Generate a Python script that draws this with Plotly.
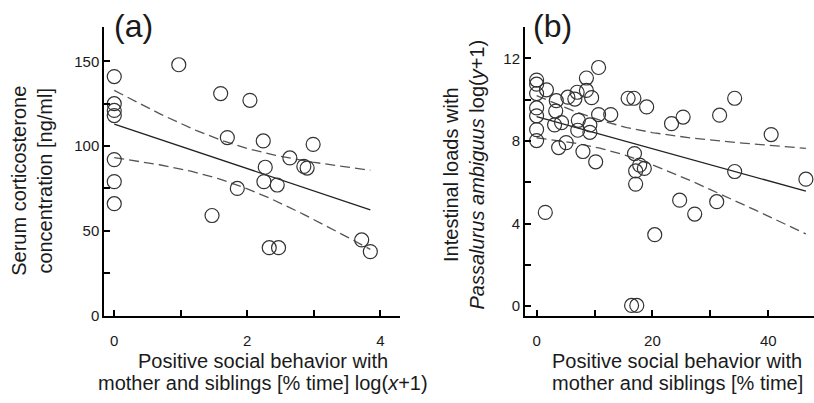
import numpy as np
import plotly.graph_objects as go

# ---------------- Data: panel (a) ----------------
a_x = [0, 0, 0, 0, 0, 0, 0,
       0.97, 1.47, 1.60, 1.70, 1.85, 2.04, 2.24, 2.27, 2.25, 2.45, 2.33, 2.47,
       2.64, 2.85, 2.90, 2.99, 3.72, 3.85]
a_y = [141, 125, 121, 118, 92, 79, 66,
       148, 59, 131, 105, 75, 127, 103, 87.5, 79, 77, 40, 40,
       93, 88, 87, 101, 44.6, 37.7]

# ---------------- Data: panel (b) ----------------
b_x = [0, 0, 0, 0, 0, 0, 0,
       1.7, 1.5, 3.4, 3.3, 3.1, 4.3, 3.8, 5.1, 5.4, 6.6, 7.0, 7.2, 7.1, 8.0,
       8.6, 8.6, 9.5, 9.2, 9.2, 10.7, 10.7, 10.2, 12.8,
       15.8, 16.8, 19.0, 16.9, 17.8, 18.6, 17.1, 17.1, 16.4, 17.3, 20.4,
       23.3, 25.3, 24.7, 27.3, 31.1, 31.6, 34.2, 34.2, 40.5, 46.5]
b_y = [10.95, 10.75, 10.3, 9.6, 9.22, 8.55, 8.02,
       10.48, 4.54, 9.95, 9.45, 8.78, 8.89, 7.68, 7.92, 10.12, 10.03, 10.36, 9.0, 8.52, 7.49,
       11.05, 10.45, 10.1, 8.78, 8.42, 11.56, 9.28, 6.99, 9.28,
       10.07, 10.07, 9.65, 7.39, 6.83, 6.67, 6.55, 5.91, 0.03, 0.03, 3.46,
       8.84, 9.16, 5.13, 4.46, 5.06, 9.25, 10.07, 6.52, 8.31, 6.15]

# tick values / labels
a_xticks = [0, 1, 2, 3, 4]
a_xlabels = ["0", "", "2", "", "4"]
a_yticks = [0, 25, 50, 75, 100, 125, 150]
a_ylabels = ["0", "", "50", "", "100", "", "150"]
b_xticks = [0, 10, 20, 30, 40]
b_xlabels = ["0", "", "20", "", "40"]
b_yticks = [0, 2, 4, 6, 8, 10, 12]
b_ylabels = ["0", "", "4", "", "8", "", "12"]


def t_crit(df):
    z = 1.959964
    return (z + (z**3 + z) / (4 * df)
            + (5 * z**5 + 16 * z**3 + 3 * z) / (96 * df**2)
            + (3 * z**7 + 19 * z**5 + 17 * z**3 - 15 * z) / (384 * df**3))


def fit_ci(xs, ys):
    x = np.asarray(xs, float)
    y = np.asarray(ys, float)
    n = len(x)
    slope, icpt = np.polyfit(x, y, 1)
    resid = y - (icpt + slope * x)
    s = np.sqrt(np.sum(resid**2) / (n - 2))
    xbar = x.mean()
    sxx = np.sum((x - xbar) ** 2)
    xl = np.linspace(x.min(), x.max(), 120)
    yl = icpt + slope * xl
    se = s * np.sqrt(1.0 / n + (xl - xbar) ** 2 / sxx)
    t = t_crit(n - 2)
    return xl, yl, yl + t * se, yl - t * se


FONT = "Liberation Sans, Arial, sans-serif"
TXT = "#1a1a1a"

fig = go.Figure()

for xs, ys, xa, ya in [(a_x, a_y, "x", "y"), (b_x, b_y, "x2", "y2")]:
    xl, yl, up, lo = fit_ci(xs, ys)
    for band in (up, lo):
        fig.add_trace(go.Scatter(x=xl, y=band, mode="lines", xaxis=xa, yaxis=ya,
                                 line=dict(color="#555555", width=1.3, dash="10px,5px"),
                                 showlegend=False, hoverinfo="skip"))
    fig.add_trace(go.Scatter(x=xl, y=yl, mode="lines", xaxis=xa, yaxis=ya,
                             line=dict(color="#222222", width=1.3),
                             showlegend=False, hoverinfo="skip"))
    fig.add_trace(go.Scatter(x=xs, y=ys, mode="markers", xaxis=xa, yaxis=ya,
                             marker=dict(symbol="circle-open", size=14, color="#333333",
                                         line=dict(width=1.2, color="#333333")),
                             showlegend=False))

ax_common = dict(showline=True, linecolor="black", linewidth=2, ticks="inside",
                 ticklen=6, tickwidth=1.5, tickcolor="black", showgrid=False,
                 zeroline=False, tickfont=dict(family=FONT, size=15, color=TXT),
                 tickmode="array")

ydom = [0.2, 0.9305]
fig.update_layout(
    width=814, height=403,
    margin=dict(l=0, r=0, t=0, b=0),
    paper_bgcolor="white", plot_bgcolor="white",
    xaxis=dict(domain=[0.1281, 0.4914], range=[-0.15, 4.296], anchor="y",
               tickvals=a_xticks, ticktext=a_xlabels, ticklabelstandoff=10, **ax_common),
    yaxis=dict(domain=ydom, range=[-0.3, 170], anchor="x",
               tickvals=a_yticks, ticktext=a_ylabels, **ax_common),
    xaxis2=dict(domain=[0.645, 1.0], range=[-2.0, 47.9], anchor="y2",
                tickvals=b_xticks, ticktext=b_xlabels, ticklabelstandoff=10, **ax_common),
    yaxis2=dict(domain=ydom, range=[-0.48, 13.5], anchor="x2",
                tickvals=b_yticks, ticktext=b_ylabels, **ax_common),
)

title_font = dict(family=FONT, size=20, color=TXT)
annots = [
    dict(text="Serum corticosterone<br>concentration [ng/ml]", x=32.5 / 814, y=1 - 185 / 403,
         textangle=-90),
    dict(text="Intestinal loads with<br><i>Passalurus ambiguus</i> log(<i>y</i>+1)",
         x=464 / 814, y=1 - 178 / 403, textangle=-90),
    dict(text="Positive social behavior with", x=263 / 814, y=1 - 368 / 403),
    dict(text="mother and siblings [% time] log(<i>x</i>+1)", x=263 / 814, y=1 - 391 / 403),
    dict(text="Positive social behavior with", x=677 / 814, y=1 - 368 / 403),
    dict(text="mother and siblings [% time]", x=677 / 814, y=1 - 391 / 403),
]
for an in annots:
    fig.add_annotation(xref="paper", yref="paper", xanchor="center", yanchor="middle",
                       showarrow=False, font=title_font, borderpad=0, **an)

for lab, cx in [("(a)", 133), ("(b)", 552)]:
    fig.add_annotation(text=lab, xref="paper", yref="paper", x=cx / 814, y=1 - 27 / 403,
                       xanchor="center", yanchor="middle", showarrow=False,
                       font=dict(family=FONT, size=32, color=TXT))

fig.write_html("out.html", config={"displayModeBar": False},
               post_script="document.body.style.margin='0';document.body.style.overflow='hidden';")
